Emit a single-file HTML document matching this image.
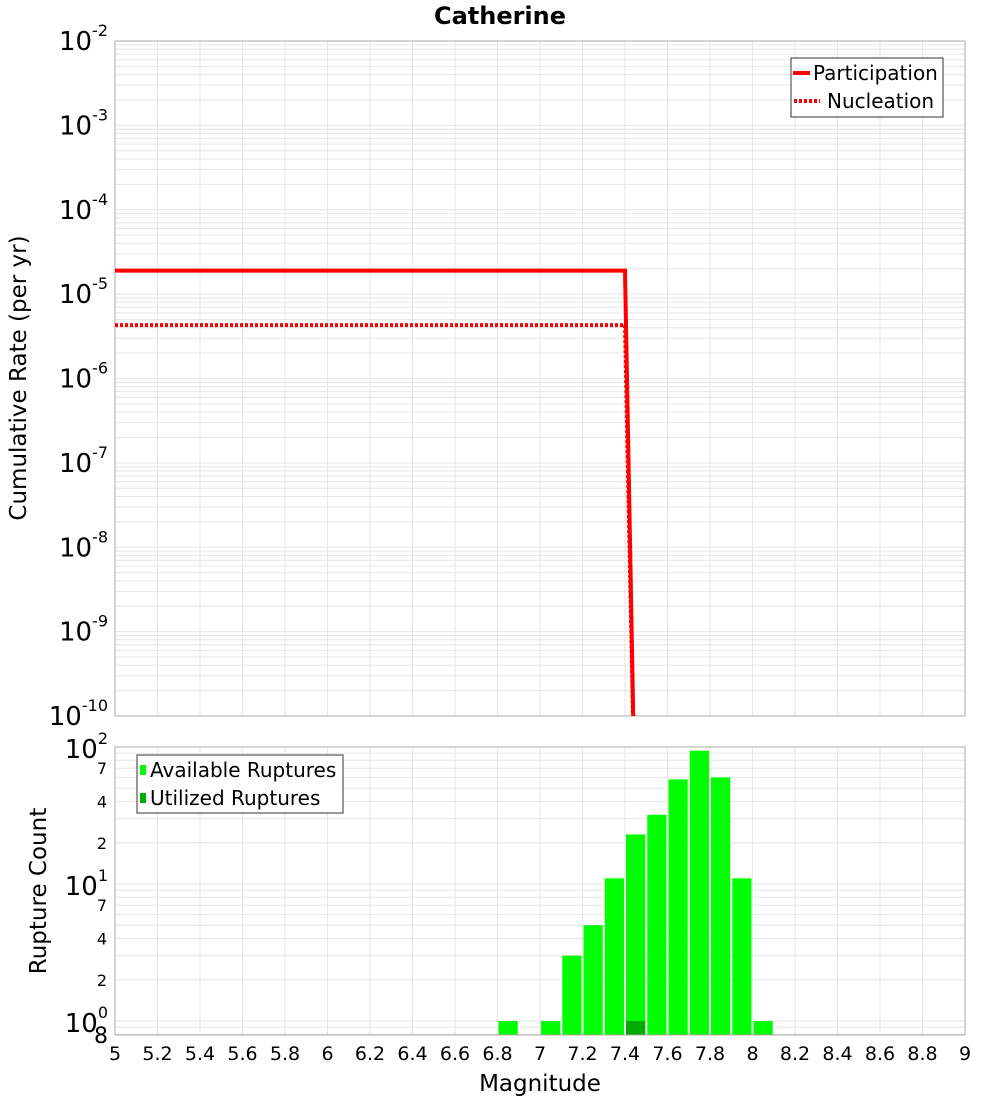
<!DOCTYPE html>
<html><head><meta charset="utf-8"><style>
body{margin:0;background:#fff;}
svg text{font-family:"DejaVu Sans","Liberation Sans",sans-serif;}
</style></head><body>
<svg id="c" width="1000" height="1100" xmlns="http://www.w3.org/2000/svg">
<rect width="1000" height="1100" fill="#fff"/>
<text x="500" y="24" text-anchor="middle" font-size="24" font-weight="bold">Catherine</text>
<g id="topPlot"></g>
<g id="botPlot"></g>
</svg>
<script>
const partMags=[5.0,7.4,7.45];
const partRates=[1.9e-5,1.9e-5,3e-12];
const nuclMags=[5.0,7.4,7.45];
const nuclRates=[4.3e-6,4.3e-6,3e-12];
const binMags=[6.85,6.95,7.05,7.15,7.25,7.35,7.45,7.55,7.65,7.75,7.85,7.95,8.05];
const availCounts=[1,0,1,3,5,11,23,32,58,94,60,11,1];
const usedCounts=[0,0,0,0,0,0,1,0,0,0,0,0,0];
const xTicks=[5,5.2,5.4,5.6,5.8,6,6.2,6.4,6.6,6.8,7,7.2,7.4,7.6,7.8,8,8.2,8.4,8.6,8.8,9];
const topExps=[-2,-3,-4,-5,-6,-7,-8,-9,-10];

const NS="http://www.w3.org/2000/svg";
function mk(p,t,a){const e=document.createElementNS(NS,t);for(const k in a)e.setAttribute(k,a[k]);p.appendChild(e);return e;}
function sup(p,x,y,base,exp,fs,anchor){
 const t=mk(p,'text',{x:x,y:y,'text-anchor':anchor,'font-size':fs});
 const a=document.createElementNS(NS,'tspan');a.textContent=base;t.appendChild(a);
 const b=document.createElementNS(NS,'tspan');b.setAttribute('dy','-14');b.setAttribute('font-size','16');b.textContent=exp;t.appendChild(b);
 return t;}
const PL=115,PR=965;
const X=m=>PL+(m-5)/4*(PR-PL);
const T0=41,T1=716;
const YT=v=>T0+(-2-Math.log10(v))/8*(T1-T0);
const B0=747,B1=1035;
const YB=v=>1021-Math.log10(v)*137;
const gTop=document.getElementById('topPlot'),gBot=document.getElementById('botPlot');

for(let e=-10;e<-2;e++)for(let k=1;k<10;k++){const y=YT(k*Math.pow(10,e));if(y<T0||y>T1)continue;
 const g=mk(gTop,'line',{x1:PL,x2:PR,y1:y,y2:y,stroke:'#e6e6e6','stroke-width':1});
 
 }
xTicks.forEach(t=>{const g=mk(gTop,'line',{x1:X(t),x2:X(t),y1:T0,y2:T1,stroke:'#e6e6e6'});
 
 });
const tb=mk(gTop,'rect',{x:PL,y:T0,width:PR-PL,height:T1-T0,fill:'none',stroke:'#aaa'});


topExps.forEach(e=>{const y=YT(Math.pow(10,e));
 const t=sup(gTop,108,y+9,'10',String(e),26,'end');
 
 });
const yt=mk(gTop,'text',{x:0,y:0,'text-anchor':'middle','font-size':23,transform:'translate(26,378) rotate(-90)'});


yt.textContent='Cumulative Rate (per yr)';
const cp=mk(gTop,'clipPath',{id:'ct'});
mk(cp,'rect',{x:PL,y:T0,width:PR-PL,height:T1-T0});
function path(ms,vs){return ms.map((m,i)=>(i?'L':'M')+X(m).toFixed(1)+','+YT(vs[i]).toFixed(1)).join('');}
const pl=mk(gTop,'path',{d:path(partMags,partRates),fill:'none',stroke:'#f00','stroke-width':4,'clip-path':'url(#ct)'});


const nl=mk(gTop,'path',{d:path(nuclMags,nuclRates),fill:'none',stroke:'#f00','stroke-width':4,'stroke-dasharray':'3,2','clip-path':'url(#ct)'});


const lg=mk(gTop,'g',{});


mk(lg,'rect',{x:791,y:58,width:152,height:59,fill:'#fff',stroke:'#333'});
mk(lg,'line',{x1:793,x2:810,y1:73,y2:73,stroke:'#f00','stroke-width':4});
mk(lg,'line',{x1:794,x2:820,y1:101,y2:101,stroke:'#f00','stroke-width':4,'stroke-dasharray':'3,2'});
const l1=mk(lg,'text',{x:813,y:80,'font-size':20});l1.textContent='Participation';


const l2=mk(lg,'text',{x:827,y:108,'font-size':20});l2.textContent='Nucleation';



for(let e=-1;e<2;e++)for(let k=1;k<10;k++){const y=YB(k*Math.pow(10,e));if(y<B0||y>B1)continue;
 const g=mk(gBot,'line',{x1:PL,x2:PR,y1:y,y2:y,stroke:'#e6e6e6'});
 
 }
xTicks.forEach(t=>{const g=mk(gBot,'line',{x1:X(t),x2:X(t),y1:B0,y2:B1,stroke:'#e6e6e6'});
 
 
 const tx=mk(gBot,'text',{x:X(t),y:1060,'text-anchor':'middle','font-size':19});
 
 
 tx.textContent=String(t);});
const bw=X(5.1)-PL-2;
binMags.forEach((m,i)=>{
 if(availCounts[i]>0){const r=mk(gBot,'rect',{x:X(m-0.05)+1,y:YB(availCounts[i]),width:bw,height:B1-YB(availCounts[i]),fill:'#00ff00'});
  
  }
 if(usedCounts[i]>0){const r=mk(gBot,'rect',{x:X(m-0.05)+1,y:YB(usedCounts[i]),width:bw,height:B1-YB(usedCounts[i]),fill:'#00aa00'});
  
  }
});
const bb=mk(gBot,'rect',{x:PL,y:B0,width:PR-PL,height:B1-B0,fill:'none',stroke:'#aaa'});


[0,1,2].forEach(e=>{const y=YB(Math.pow(10,e));
 const t=sup(gBot,108,y+11,'10',String(e),26,'end');
 
 });
[[7,1],[4,1],[2,1],[7,0],[4,0],[2,0]].forEach(([k,e])=>{const y=YB(k*Math.pow(10,e));
 const t=mk(gBot,'text',{x:107,y:y+6,'text-anchor':'end','font-size':16});
 
 
 t.textContent=String(k);});
const e8=mk(gBot,'text',{x:108,y:1043,'text-anchor':'end','font-size':22});


e8.textContent='8';
const by=mk(gBot,'text',{x:0,y:0,'text-anchor':'middle','font-size':23,transform:'translate(46,891) rotate(-90)'});


by.textContent='Rupture Count';
const xt=mk(gBot,'text',{x:540,y:1091,'text-anchor':'middle','font-size':23});


xt.textContent='Magnitude';
const lb=mk(gBot,'g',{});


mk(lb,'rect',{x:137,y:755,width:206,height:58,fill:'#fff',stroke:'#333'});
mk(lb,'rect',{x:140,y:765,width:6,height:10,fill:'#00ff00'});
mk(lb,'rect',{x:140,y:793,width:6,height:10,fill:'#00aa00'});
const b1=mk(lb,'text',{x:150,y:777,'font-size':20});b1.textContent='Available Ruptures';


const b2=mk(lb,'text',{x:150,y:805,'font-size':20});b2.textContent='Utilized Ruptures';


</script>
</body></html>
